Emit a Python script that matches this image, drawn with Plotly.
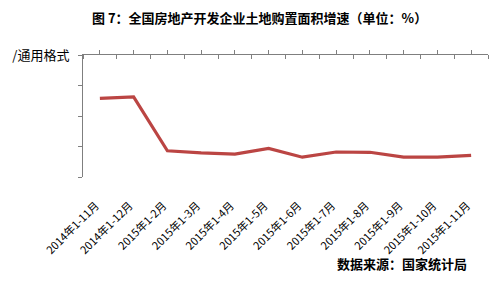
import plotly.graph_objects as go

categories = ["2014年1-11月", "2014年1-12月", "2015年1-2月", "2015年1-3月", "2015年1-4月",
              "2015年1-5月", "2015年1-6月", "2015年1-7月", "2015年1-8月", "2015年1-9月",
              "2015年1-10月", "2015年1-11月"]
growth = [-14.2, -13.7, -31.4, -32.1, -32.5, -30.6, -33.5, -31.8, -31.9, -33.5, -33.5, -32.9]
y_tickvals = [0, -10, -20, -30, -40]
y_ticktext = ["/通用格式", "", "", "", ""]

FONT = "Noto Sans CJK SC"
AX = "#7f7f7f"

x_idx = list(range(len(categories)))

fig = go.Figure()
fig.add_trace(go.Scatter(x=x_idx, y=growth, mode="lines",
                         line=dict(color="#BB4543", width=3.2), showlegend=False))
# invisible trace on top axis
fig.add_trace(go.Scatter(x=x_idx, y=growth, xaxis="x2", mode="lines",
                         line=dict(color="rgba(0,0,0,0)"), showlegend=False, hoverinfo="skip"))

fig.update_layout(
    width=501, height=283,
    margin=dict(l=74, r=13, t=55, b=106),
    paper_bgcolor="white", plot_bgcolor="white",
    font=dict(family=FONT, color="#000000"),
    xaxis=dict(range=[-0.5, 11.5], tickmode="array", tickvals=x_idx, ticktext=categories,
               tickangle=-45, showline=False, ticks="", showgrid=False, zeroline=False,
               tickfont=dict(size=11, family=FONT, color="#000"), ticklabelstandoff=19,
               ticklabelshift=-4),
    xaxis2=dict(range=[-0.5, 11.5], overlaying="x", side="top", anchor="y",
                showline=True, linecolor=AX, linewidth=1,
                tickmode="linear", tick0=0, dtick=1, ticks="outside", ticklen=4,
                tickcolor=AX, showticklabels=False, showgrid=False, zeroline=False,
                minor=dict(tick0=0.5, dtick=1, ticks="inside", ticklen=4, tickcolor=AX)),
    yaxis=dict(range=[-40, 0], tickmode="array", tickvals=y_tickvals, ticktext=y_ticktext,
               showline=True, linecolor=AX, linewidth=1, ticks="outside", ticklen=4,
               tickcolor=AX, showgrid=False, zeroline=False, ticklabelstandoff=6,
               tickfont=dict(size=13, family=FONT, color="#000")),
    annotations=[
        dict(text="<b>图 7：全国房地产开发企业土地购置面积增速（单位：%）</b>",
             xref="paper", yref="paper", x=0.435, y=1.0, yshift=38, xanchor="center",
             yanchor="middle", showarrow=False, font=dict(size=13, family=FONT, color="#000")),
        dict(text="<b>数据来源：国家统计局</b>", xref="paper", yref="paper",
             x=0.952, y=0, yshift=-86, xanchor="right", yanchor="middle", showarrow=False,
             font=dict(size=13, family=FONT, color="#000")),
    ],
)

fig.write_html("out.html")
